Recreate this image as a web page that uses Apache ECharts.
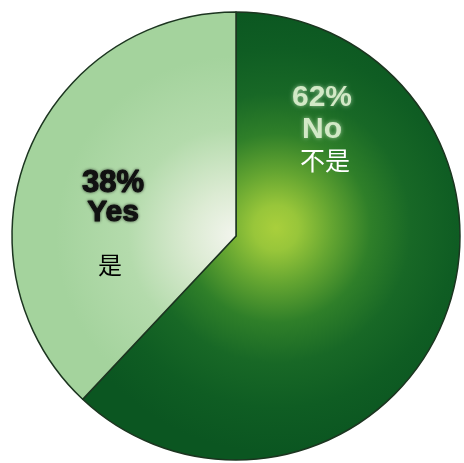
<!DOCTYPE html>
<html>
<head>
<meta charset="utf-8">
<script src="https://cdn.jsdelivr.net/npm/echarts@6/dist/echarts.min.js"></script>
<style>
  html, body { margin: 0; padding: 0; background: #ffffff; }
  #main { width: 464px; height: 463px; }
</style>
</head>
<body>
<div id="main"></div>
<script>
// 数据
var names = ['No', 'Yes'];
var namesCn = ['不是', '是'];
var values = [62, 38];

// 标签位置（像素）
var labelPos = [[322, 128], [113, 235]];

var myChart = echarts.init(document.getElementById('main'));

var noFill = {
    type: 'radial', x: 276, y: 228, r: 225, global: true,
    colorStops: [
        { offset: 0, color: '#a9cf3c' },
        { offset: 0.1, color: '#98c63a' },
        { offset: 0.25, color: '#64a531' },
        { offset: 0.42, color: '#2f7f29' },
        { offset: 0.6, color: '#186826' },
        { offset: 0.8, color: '#0f5d23' },
        { offset: 1, color: '#0b5621' }
    ]
};
var yesFill = {
    type: 'radial', x: 236, y: 236, r: 180, global: true,
    colorStops: [
        { offset: 0, color: '#f3f5ee' },
        { offset: 0.25, color: '#dcebd3' },
        { offset: 0.6, color: '#b4dbac' },
        { offset: 1, color: '#a4d39d' }
    ]
};

var data = names.map(function (n, i) {
    var dark = i === 0;
    return {
        name: n,
        value: values[i],
        cn: namesCn[i],
        itemStyle: { color: dark ? noFill : yesFill },
        label: {
            rich: dark ? {
                p: { fontFamily: 'Liberation Sans', fontWeight: 'bold', fontSize: 30, lineHeight: 33, color: '#d2e9c6',
                     textShadowColor: 'rgba(210,235,200,0.7)', textShadowBlur: 4 },
                n: { fontFamily: 'Liberation Sans', fontWeight: 'bold', fontSize: 30, lineHeight: 31, color: '#d2e9c6',
                     textShadowColor: 'rgba(210,235,200,0.7)', textShadowBlur: 4 },
                c: { fontFamily: 'Noto Sans CJK SC', fontSize: 25, lineHeight: 30, color: '#ffffff', padding: [0, 0, 0, 6] }
            } : {
                p: { fontFamily: 'Liberation Sans', fontWeight: 'bold', fontSize: 31, lineHeight: 30, color: '#111111',
                     textBorderColor: '#111111', textBorderWidth: 1,
                     textShadowColor: 'rgba(0,0,0,0.6)', textShadowBlur: 3 },
                n: { fontFamily: 'Liberation Sans', fontWeight: 'bold', fontSize: 30, lineHeight: 30, color: '#111111',
                     textBorderColor: '#111111', textBorderWidth: 1,
                     textShadowColor: 'rgba(0,0,0,0.6)', textShadowBlur: 3 },
                c: { fontFamily: 'Noto Sans CJK SC', fontSize: 24, lineHeight: 74, color: '#000000', padding: [0, 6, 0, 0] }
            }
        }
    };
});

var option = {
    animation: false,
    backgroundColor: '#ffffff',
    series: [
        {
            type: 'pie',
            center: [236, 236],
            radius: [0, 224],
            startAngle: 90,
            clockwise: true,
            silent: true,
            itemStyle: { borderColor: '#1c3520', borderWidth: 1.5 },
            label: {
                show: true,
                position: 'inside',
                align: 'center',
                formatter: function (p) {
                    return '{p|' + p.value + '%}\n{n|' + p.name + '}\n{c|' + p.data.cn + '}';
                }
            },
            labelLine: { show: false },
            labelLayout: function (params) {
                var pos = labelPos[params.dataIndex];
                return { x: pos[0], y: pos[1], align: 'center', verticalAlign: 'middle' };
            },
            emphasis: { disabled: true },
            data: data
        }
    ]
};

myChart.setOption(option);
</script>
</body>
</html>
